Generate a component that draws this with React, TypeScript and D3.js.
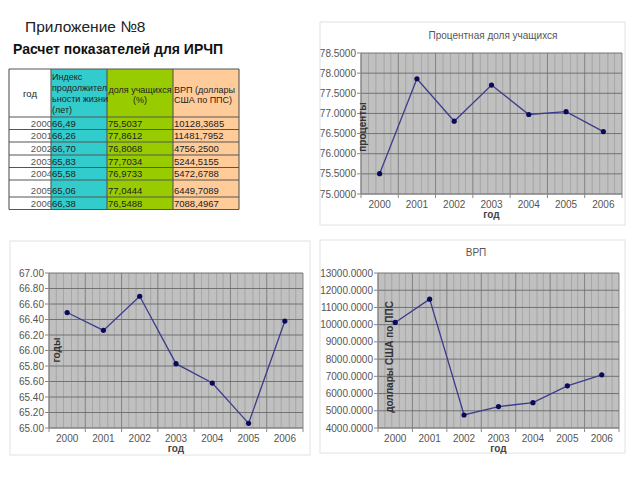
import React from "react";
import * as d3 from "d3";

const years = ["2000", "2001", "2002", "2003", "2004", "2005", "2006"];
const lifeIndex = [66.49, 66.26, 66.7, 65.83, 65.58, 65.06, 66.38];
const studentShare = [75.5037, 77.8612, 76.8068, 77.7034, 76.9733, 77.0444, 76.5488];
const grp = [10128.3685, 11481.7952, 4756.25, 5244.5155, 5472.6788, 6449.7089, 7088.4967];

const lifeTicks = [65, 65.2, 65.4, 65.6, 65.8, 66, 66.2, 66.4, 66.6, 66.8, 67];
const studentTicks = [75, 75.5, 76, 76.5, 77, 77.5, 78, 78.5];
const grpTicks = [4000, 5000, 6000, 7000, 8000, 9000, 10000, 11000, 12000, 13000];

const FONT = "'Liberation Sans', Arial, sans-serif";

type ChartProps = {
  box: [number, number, number, number];
  plot: [number, number, number, number];
  values: number[];
  ticks: number[];
  decimals: number;
  title?: string;
  titlePos?: [number, number];
  yLabel: string;
  yLabelPos: [number, number];
};

function LineChart(p: ChartProps) {
  const [bx, by, bw, bh] = p.box;
  const [l, t, r, b] = p.plot;
  const x = d3.scaleBand().domain(years).range([l, r]);
  const y = d3
    .scaleLinear()
    .domain([p.ticks[0], p.ticks[p.ticks.length - 1]])
    .range([b, t]);
  const line = d3
    .line<number>()
    .x((_, i) => (x(years[i]) as number) + x.bandwidth() / 2)
    .y((d) => y(d));
  const bw2 = x.bandwidth();
  const minor: number[] = [];
  years.forEach((yr) => {
    const s = x(yr) as number;
    [0.2, 0.4, 0.62, 0.8].forEach((f) => minor.push(s + bw2 * f));
  });
  return (
    <g>
      <rect x={bx} y={by} width={bw} height={bh} fill="#fff" stroke="#e2e2e2" />
      {p.title && (
        <text x={p.titlePos![0]} y={p.titlePos![1]} fontSize={10} fill="#555" textAnchor="middle" fontFamily={FONT}>
          {p.title}
        </text>
      )}
      <rect x={l} y={t} width={r - l} height={b - t} fill="#c0c0c0" />
      {minor.map((m, i) => (
        <line key={"m" + i} x1={m} x2={m} y1={t} y2={b} stroke="#8a8a8a" strokeWidth={0.8} opacity={0.6} />
      ))}
      {years.map((yr, i) => (
        <line key={"v" + i} x1={x(yr)} x2={x(yr)} y1={t} y2={b} stroke="#7a7a7a" strokeWidth={0.9} />
      ))}
      <line x1={r} x2={r} y1={t} y2={b} stroke="#7a7a7a" strokeWidth={0.9} />
      {p.ticks.map((tk, i) => (
        <g key={"h" + i}>
          <line x1={l} x2={r} y1={y(tk)} y2={y(tk)} stroke="#6a6a6a" strokeWidth={0.9} />
          <line x1={l - 4} x2={l} y1={y(tk)} y2={y(tk)} stroke="#888" />
          <text x={l - 5} y={y(tk) + 3.5} fontSize={10} fill="#555" textAnchor="end" fontFamily={FONT}>
            {tk.toFixed(p.decimals)}
          </text>
        </g>
      ))}
      <line x1={l} x2={l} y1={t} y2={b} stroke="#888" />
      <line x1={l} x2={r} y1={b} y2={b} stroke="#888" />
      {years.map((yr, i) => (
        <g key={"x" + i}>
          <line x1={x(yr)} x2={x(yr)} y1={b} y2={b + 4} stroke="#888" />
          <text x={(x(yr) as number) + bw2 / 2} y={b + 14} fontSize={10} fill="#555" textAnchor="middle" fontFamily={FONT}>
            {yr}
          </text>
        </g>
      ))}
      <line x1={r} x2={r} y1={b} y2={b + 4} stroke="#888" />
      <text x={(l + r) / 2} y={b + 24} fontSize={10} fontWeight="bold" fill="#444" textAnchor="middle" fontFamily={FONT}>
        год
      </text>
      <text
        transform={`translate(${p.yLabelPos[0]},${p.yLabelPos[1]}) rotate(-90)`}
        fontSize={10}
        fontWeight="bold"
        fill="#333"
        textAnchor="middle"
        fontFamily={FONT}
      >
        {p.yLabel}
      </text>
      <path d={line(p.values) || ""} fill="none" stroke="#3c3c8c" strokeWidth={1.3} />
      {p.values.map((v, i) => (
        <circle key={"p" + i} cx={(x(years[i]) as number) + bw2 / 2} cy={y(v)} r={2.6} fill="#0a0a5a" />
      ))}
    </g>
  );
}

const colX = [9, 51, 107, 173, 239];
const rowY = [69, 117, 129.5, 142, 155, 167.5, 180, 197, 209.5];
const colFill = ["#ffffff", "#33cccc", "#99cc00", "#ffcc99"];
const fmt = (v: number, d: number) => v.toFixed(d).replace(".", ",");

function DataTable() {
  return (
    <g fontFamily={FONT} fontSize={9.5} fill="#222">
      {colFill.map((c, i) => (
        <rect key={"c" + i} x={colX[i]} y={rowY[0]} width={colX[i + 1] - colX[i]} height={rowY[8] - rowY[0]} fill={c} />
      ))}
      {rowY.map((ry, i) => (
        <line key={"r" + i} x1={colX[0]} x2={colX[4]} y1={ry} y2={ry} stroke="#555" strokeWidth={i === 0 || i === 1 ? 1.2 : 1} />
      ))}
      {colX.map((cx, i) => (
        <line key={"cl" + i} x1={cx} x2={cx} y1={rowY[0]} y2={rowY[8]} stroke="#555" strokeWidth={1.1} />
      ))}
      <text x={30} y={97} textAnchor="middle">год</text>
      <g fontSize={9}>
        <text x={52} y={80}>Индекс</text>
        <text x={52} y={90.5}>продолжител</text>
        <text x={52} y={102}>ьности жизни</text>
        <text x={52} y={113}>(лет)</text>
        <text x={140} y={93} textAnchor="middle">доля учащихся</text>
        <text x={140} y={103} textAnchor="middle">(%)</text>
        <text x={174} y={93}>ВРП    (доллары</text>
        <text x={174} y={103}>США по ППС)</text>
      </g>
      {years.map((yr, i) => {
        const yy = rowY[i + 2] - 3;
        return (
          <g key={"row" + i}>
            <text x={52} y={yy} textAnchor="end" fill="#555">{yr}</text>
            <text x={52} y={yy}>{fmt(lifeIndex[i], 2)}</text>
            <text x={108} y={yy}>{fmt(studentShare[i], 4)}</text>
            <text x={174} y={yy}>{fmt(grp[i], 4)}</text>
          </g>
        );
      })}
    </g>
  );
}

export default function App() {
  return (
    <svg width={640} height={480} style={{ position: "absolute", left: 0, top: 0, background: "#fff" }}>
      <rect width={640} height={480} fill="#fff" />
      <text x={25} y={32} fontSize={15.5} fill="#222" fontFamily={FONT}>Приложение №8</text>
      <text x={13} y={54} fontSize={14} fontWeight="bold" fill="#111" fontFamily={FONT}>Расчет показателей для ИРЧП</text>
      <DataTable />
      <LineChart
        box={[320, 22, 305, 203]}
        plot={[361, 53, 622, 194]}
        values={studentShare}
        ticks={studentTicks}
        decimals={4}
        title="Процентная доля учащихся"
        titlePos={[493, 39]}
        yLabel="проценты"
        yLabelPos={[366, 127]}
      />
      <LineChart
        box={[10, 241, 300, 214]}
        plot={[49, 273, 303, 428]}
        values={lifeIndex}
        ticks={lifeTicks}
        decimals={2}
        yLabel="годы"
        yLabelPos={[60, 350]}
      />
      <LineChart
        box={[320, 240, 305, 213]}
        plot={[378, 273, 619, 428]}
        values={grp}
        ticks={grpTicks}
        decimals={4}
        title="ВРП"
        titlePos={[476, 256]}
        yLabel="доллары США по ППС"
        yLabelPos={[393, 357]}
      />
    </svg>
  );
}
